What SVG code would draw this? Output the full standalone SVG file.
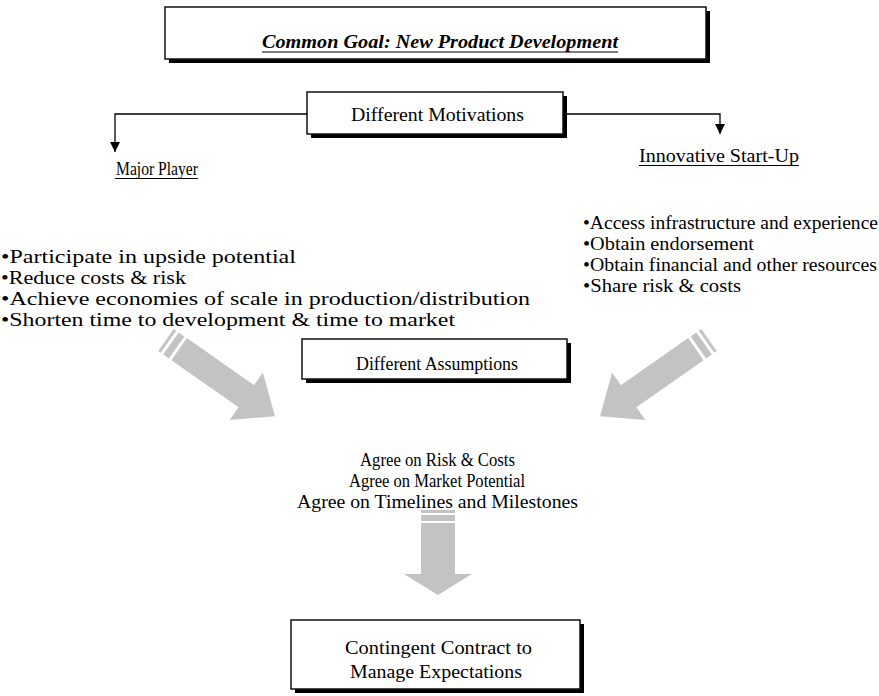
<svg xmlns="http://www.w3.org/2000/svg" width="879" height="696" viewBox="0 0 879 696">
<style>
text{font-family:"Liberation Serif","Times New Roman",serif;font-size:18.5px;fill:#000}
.c{text-anchor:middle}
.title{font-weight:bold;font-style:italic;font-size:19px}
.box{fill:#fff;stroke:#111;stroke-width:1.5}
.shadow{fill:#000}
.conn{fill:none;stroke:#000;stroke-width:1.3}
.ul{stroke:#000;stroke-width:1.2}
.big{fill:#c3c3c3}
</style>
<defs>
<marker id="ah" viewBox="0 0 10 10" refX="10" refY="5" markerWidth="10" markerHeight="10" markerUnits="userSpaceOnUse" orient="auto">
<path d="M0,0 L10,5 L0,10 Z" fill="#000"/>
</marker>
<g id="fat">
<rect x="0" y="-13.5" width="3" height="27"/>
<rect x="6" y="-13.5" width="7" height="27"/>
<rect x="16" y="-13.5" width="83" height="27"/>
<polygon points="98,-29 133,0 98,29"/>
</g>
</defs>

<g id="goal">
<rect class="shadow" x="169" y="11" width="541" height="52"/>
<rect class="box" x="165" y="7" width="541" height="52"/>
<text class="c title" x="440" y="48" textLength="356" lengthAdjust="spacingAndGlyphs">Common Goal: New Product Development</text>
<line class="ul" x1="262" y1="52" x2="618" y2="52"/>
</g>

<g id="motivations">
<rect class="shadow" x="311" y="96" width="256" height="42"/>
<rect class="box" x="307" y="92" width="256" height="42"/>
<text class="c" x="437.5" y="121" textLength="173" lengthAdjust="spacingAndGlyphs">Different Motivations</text>
</g>

<g id="connectors">
<polyline class="conn" points="307,114 115,114 115,152" marker-end="url(#ah)"/>
<polyline class="conn" points="563,114 720,114 720,134" marker-end="url(#ah)"/>
</g>

<g id="major-player">
<text x="116" y="175" textLength="82" lengthAdjust="spacingAndGlyphs">Major Player</text>
<line class="ul" x1="115" y1="178.5" x2="198" y2="178.5"/>
<text x="1" y="263" textLength="295" lengthAdjust="spacingAndGlyphs">•Participate in upside potential</text>
<text x="1" y="284" textLength="185" lengthAdjust="spacingAndGlyphs">•Reduce costs &amp; risk</text>
<text x="1" y="305" textLength="529" lengthAdjust="spacingAndGlyphs">•Achieve economies of scale in production/distribution</text>
<text x="1" y="326" textLength="454" lengthAdjust="spacingAndGlyphs">•Shorten time to development &amp; time to market</text>
</g>

<g id="startup">
<text x="639" y="162" textLength="160" lengthAdjust="spacingAndGlyphs">Innovative Start-Up</text>
<line class="ul" x1="639" y1="165.5" x2="799" y2="165.5"/>
<text x="583" y="229" textLength="295" lengthAdjust="spacingAndGlyphs">•Access infrastructure and experience</text>
<text x="583" y="250" textLength="171" lengthAdjust="spacingAndGlyphs">•Obtain endorsement</text>
<text x="583" y="271" textLength="294" lengthAdjust="spacingAndGlyphs">•Obtain financial and other resources</text>
<text x="583" y="292" textLength="158" lengthAdjust="spacingAndGlyphs">•Share risk &amp; costs</text>
</g>

<g id="assumptions">
<rect class="shadow" x="306" y="343" width="265" height="40"/>
<rect class="box" x="302" y="339" width="265" height="40"/>
<text class="c" x="437" y="370" textLength="162" lengthAdjust="spacingAndGlyphs">Different Assumptions</text>
</g>

<g id="arrows" class="big">
<use href="#fat" transform="translate(166,340) rotate(35)"/>
<use href="#fat" transform="translate(709,340) rotate(145)"/>
<rect x="421" y="510" width="34" height="3"/>
<rect x="421" y="515" width="34" height="6"/>
<rect x="421" y="523" width="34" height="52"/>
<polygon points="404,574 472,574 438,595"/>
</g>

<g id="agree">
<text class="c" x="437.5" y="466" textLength="155" lengthAdjust="spacingAndGlyphs">Agree on Risk &amp; Costs</text>
<text class="c" x="437" y="487" textLength="176" lengthAdjust="spacingAndGlyphs">Agree on Market Potential</text>
<text class="c" x="437.5" y="508" textLength="281" lengthAdjust="spacingAndGlyphs">Agree on Timelines and Milestones</text>
</g>

<g id="contract">
<rect class="shadow" x="295" y="624" width="289" height="69"/>
<rect class="box" x="291" y="620" width="289" height="69"/>
<text class="c" x="438.5" y="654" textLength="187" lengthAdjust="spacingAndGlyphs">Contingent Contract to</text>
<text class="c" x="436" y="678" textLength="172" lengthAdjust="spacingAndGlyphs">Manage Expectations</text>
</g>
</svg>
